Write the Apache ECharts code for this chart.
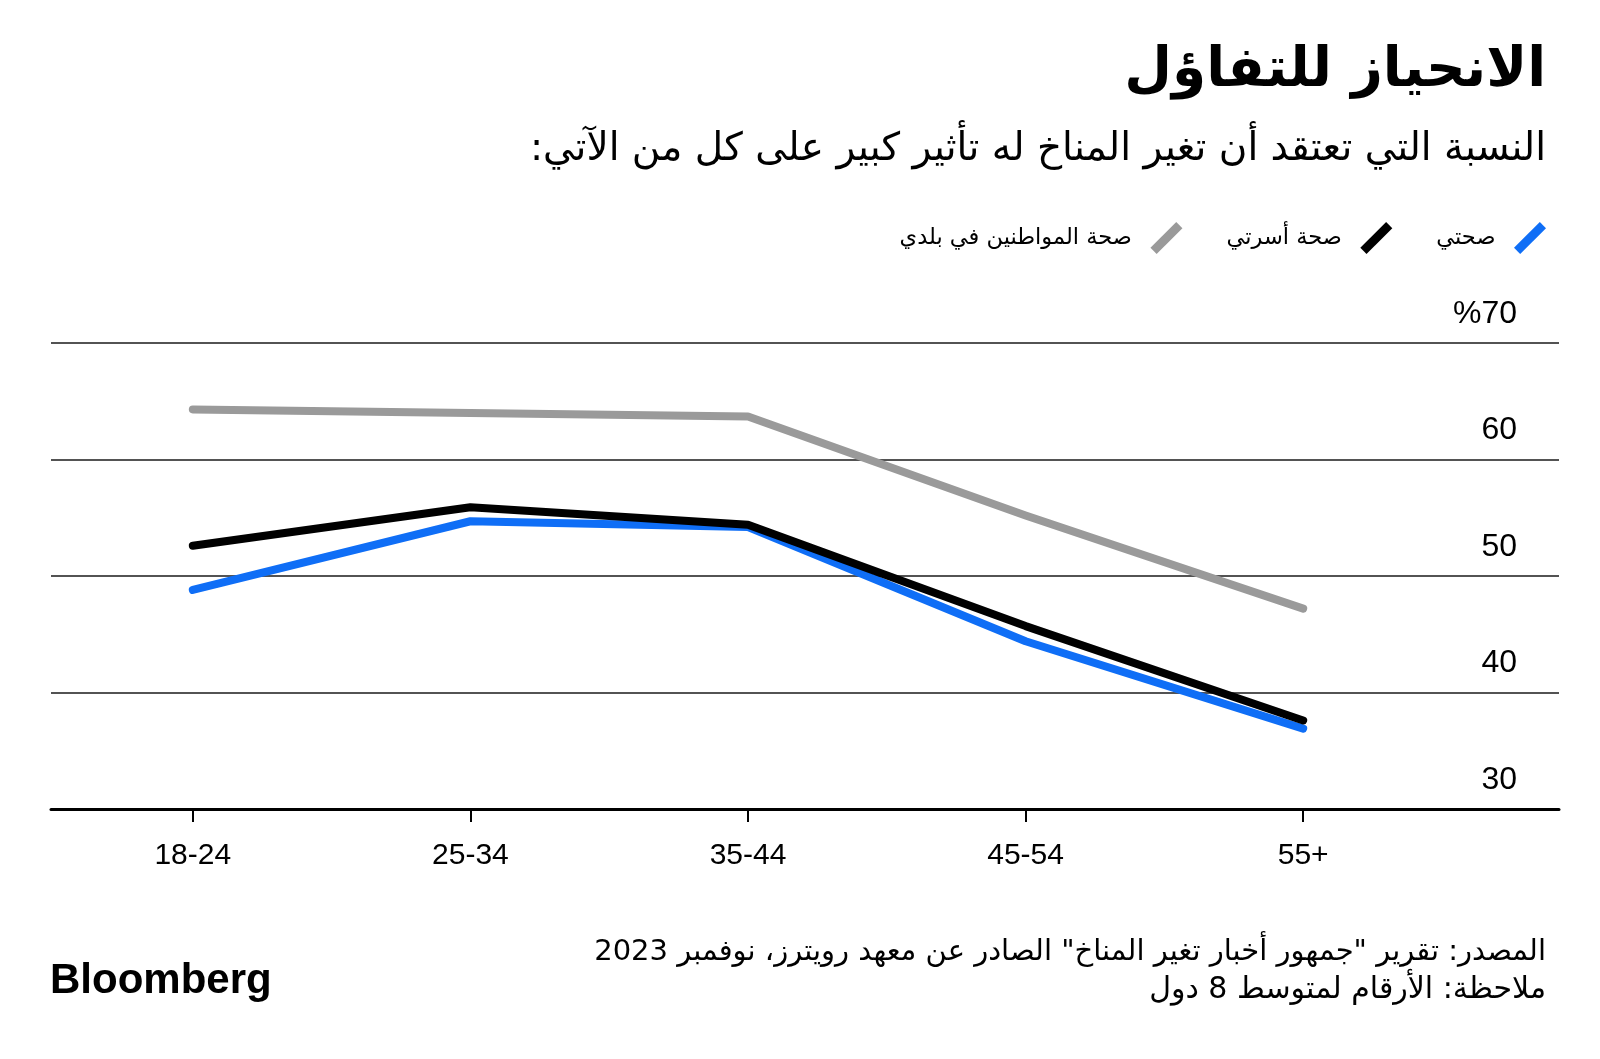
<!DOCTYPE html>
<html>
<head>
<meta charset="utf-8">
<script src="https://cdn.jsdelivr.net/npm/echarts@6/dist/echarts.min.js"></script>
<style>
html,body{margin:0;padding:0;background:#fff;}
#c{width:1600px;height:1059px;}
</style>
</head>
<body>
<div id="c"></div>
<script>
const categories = ['18-24', '25-34', '35-44', '45-54', '55+'];
const myHealth = [48.8, 54.7, 54.2, 44.4, 36.9];
const familyHealth = [52.6, 55.9, 54.4, 45.7, 37.6];
const citizensHealth = [64.3, 64.0, 63.7, 55.2, 47.2];
const seriesNames = ['صحتي', 'صحة أسرتي', 'صحة المواطنين في بلدي'];
const seriesColors = ['#0f6ef6', '#000000', '#9a9a9a'];
const yMin = 30, yMax = 70, yStep = 10;

const titleText = 'الانحياز للتفاؤل';
const subtitleText = 'النسبة التي تعتقد أن تغير المناخ له تأثير كبير على كل من الآتي:\u200F';
const sourceText = 'المصدر: تقرير "جمهور أخبار تغير المناخ" الصادر عن معهد رويترز، نوفمبر 2023\u200F';
const noteText = 'ملاحظة: الأرقام لمتوسط 8 دول\u200F';

const AR = '"DejaVu Sans", sans-serif';
const LAT = '"Liberation Sans", Arial, sans-serif';

const chart = echarts.init(document.getElementById('c'), null, {renderer: 'canvas'});
const lineSeries = (name, data, color, z) => ({
  type: 'line', name, data, xAxisIndex: 1, yAxisIndex: 1,
  symbol: 'none', smooth: false, z,
  lineStyle: {color, width: 8, cap: 'round', join: 'round'},
  itemStyle: {color},
  emphasis: {disabled: true}
});
const legendIcon = 'path://M0,25 L25,0 L31,6 L6,31 Z';

chart.setOption({
  animation: false,
  backgroundColor: '#ffffff',
  grid: [
    {left: 51, right: 41, top: 343, bottom: 250},
    {left: 54, width: 1388, top: 343, bottom: 250}
  ],
  xAxis: [
    {gridIndex: 0, type: 'category', data: categories, boundaryGap: true,
     axisLine: {show: true, lineStyle: {color: '#000', width: 3}},
     axisTick: {show: false}, axisLabel: {show: false}, splitLine: {show: false}},
    {gridIndex: 1, type: 'category', data: categories, boundaryGap: true,
     axisLine: {show: false},
     axisTick: {show: true, alignWithLabel: true, length: 13, lineStyle: {color: '#000', width: 2}},
     axisLabel: {show: true, margin: 32, color: '#000', fontFamily: LAT, fontSize: 30},
     splitLine: {show: false}}
  ],
  yAxis: [
    {gridIndex: 0, type: 'value', position: 'right', min: yMin, max: yMax, interval: yStep,
     axisLine: {show: false}, axisTick: {show: false},
     splitLine: {show: true, lineStyle: {color: '#1a1a1a', width: 1.5}},
     axisLabel: {inside: true, margin: 42, color: '#000', fontFamily: LAT, fontSize: 32,
       align: 'right', verticalAlign: 'bottom', lineHeight: 32, padding: [0, 0, 13, 0],
       formatter: v => (v === yMax ? '%' + v : String(v))}},
    {gridIndex: 1, type: 'value', min: yMin, max: yMax, interval: yStep, show: false,
     splitLine: {show: false}}
  ],
  legend: {
    data: [seriesNames[2], seriesNames[1], seriesNames[0]],
    right: 49, top: 217, orient: 'horizontal', align: 'right',
    itemWidth: 33, itemHeight: 32, itemGap: 44, icon: legendIcon,
    selectedMode: false,
    textStyle: {fontFamily: AR, fontSize: 22.5, color: '#000', padding: [0, 13, 0, 0]}
  },
  series: [
    lineSeries(seriesNames[2], citizensHealth, seriesColors[2], 2),
    lineSeries(seriesNames[0], myHealth, seriesColors[0], 3),
    lineSeries(seriesNames[1], familyHealth, seriesColors[1], 4)
  ],
  graphic: [
    {type: 'text', x: 1546, y: 72, style: {text: titleText, align: 'right', verticalAlign: 'middle',
      fill: '#000', font: 'bold 55px ' + AR}},
    {type: 'text', x: 1546, y: 150, style: {text: subtitleText, align: 'right', verticalAlign: 'middle',
      fill: '#000', font: '39px ' + AR}},
    {type: 'text', x: 1546, y: 952, style: {text: sourceText, align: 'right', verticalAlign: 'middle',
      fill: '#000', font: '29px ' + AR}},
    {type: 'text', x: 1546, y: 990, style: {text: noteText, align: 'right', verticalAlign: 'middle',
      fill: '#000', font: '30px ' + AR}},
    {type: 'text', x: 50, y: 981, style: {text: 'Bloomberg', align: 'left', verticalAlign: 'middle',
      fill: '#000', font: 'bold 42px ' + LAT}}
  ]
});
</script>
</body>
</html>
